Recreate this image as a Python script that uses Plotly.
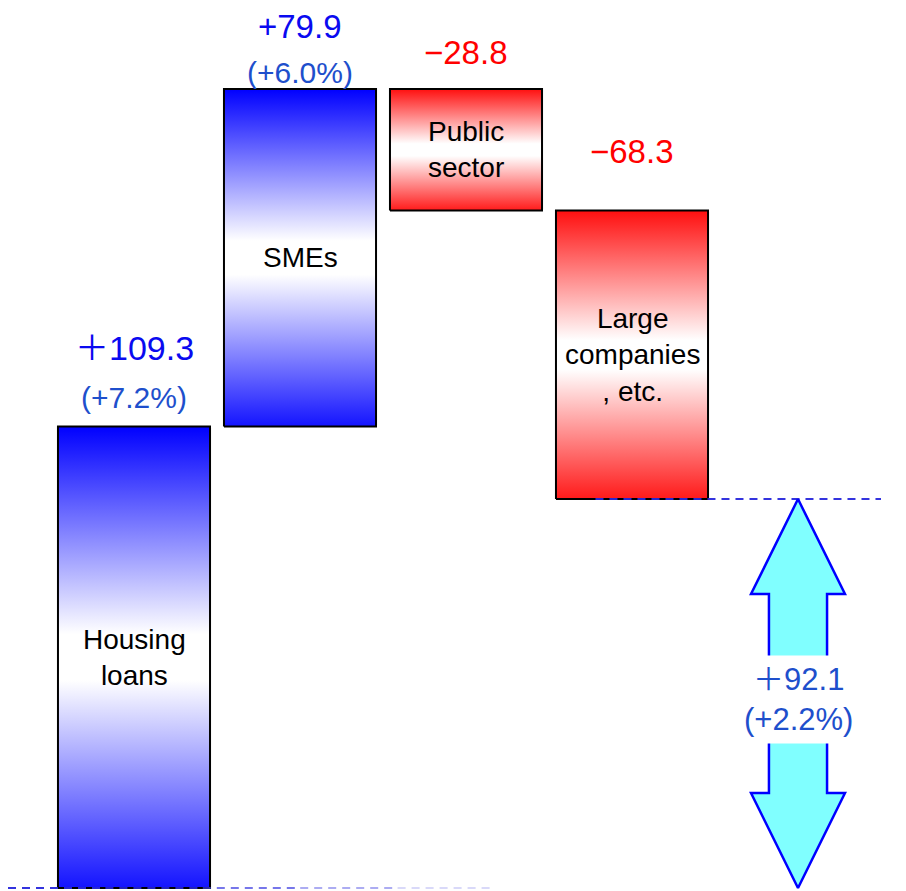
import plotly.graph_objects as go

# ---------------- data ----------------
categories = ["Housing<br>loans", "SMEs", "Public<br>sector", "Large<br>companies<br>, etc."]
changes = [109.3, 79.9, -28.8, -68.3]
value_labels = ["＋109.3", "+79.9", "−28.8", "−68.3"]
pct_labels = ["(+7.2%)", "(+6.0%)", "", ""]
total_change = 92.1
total_label = "＋92.1"
total_pct = "(+2.2%)"

# ---------------- style / layout constants ----------------
W, H = 906, 891
PAGE_OFF = 8                        # default body margin of the page
X0_PX, STEP_PX = 134 - PAGE_OFF, 166
BOTTOM_PX, TOP_PX = 888 - PAGE_OFF, 89 - PAGE_OFF
BAR_W = 0.916
BLUE_SCALE = [[0, "#1414FF"], [0.45, "#FFFFFF"], [0.55, "#FFFFFF"], [1, "#0000FF"]]
RED_SCALE = [[0, "#FF1A1A"], [0.45, "#FFFFFF"], [0.55, "#FFFFFF"], [1, "#FF0F0F"]]
FONT = "Liberation Sans, Arial, Noto Sans CJK JP, sans-serif"
VAL_COLORS = ["#0A0AF0", "#0A0AF0", "#FF0000", "#FF0000"]
PCT_COLOR = "#1E4FCC"
LABEL_OFFSETS = [(78, 29), (63, 17), (37, None), (59, None)]  # px above bar top

# cumulative positions
bases, tops = [], []
run = 0.0
for v in changes:
    bases.append(run)
    run += v
    tops.append(run)
ymax = max(max(bases), max(tops))
scale = (BOTTOM_PX - TOP_PX) / ymax
yrange = [-(H - BOTTOM_PX) / scale, ymax + TOP_PX / scale]
xrange = [-X0_PX / STEP_PX, (W - X0_PX) / STEP_PX]

fig = go.Figure()
annotations = []

for i, (cat, v) in enumerate(zip(categories, changes)):
    lo, hi = min(bases[i], tops[i]), max(bases[i], tops[i])
    xl, xr = i - BAR_W / 2, i + BAR_W / 2
    fig.add_trace(go.Scatter(
        x=[xl, xr, xr, xl, xl], y=[lo, lo, hi, hi, lo],
        mode="lines", fill="toself",
        fillgradient=dict(type="vertical", colorscale=BLUE_SCALE if v > 0 else RED_SCALE),
        line=dict(color="black", width=2), hoverinfo="skip", showlegend=False))
    annotations.append(dict(x=i, y=(lo + hi) / 2, text=cat, showarrow=False,
                            font=dict(family=FONT, size=28, color="black")))
    off_v, off_p = LABEL_OFFSETS[i]
    annotations.append(dict(x=i, y=hi, text=value_labels[i], showarrow=False,
                            yanchor="middle", yshift=off_v,
                            font=dict(family=FONT, size=34 if i == 0 else 33, color=VAL_COLORS[i])))
    if pct_labels[i]:
        annotations.append(dict(x=i, y=hi, text=pct_labels[i], showarrow=False,
                                yanchor="middle", yshift=off_p,
                                font=dict(family=FONT, size=30, color=PCT_COLOR)))

# dashed guide lines
n = len(changes)
fade = ["rgba(40,40,220,0.95)", "rgba(40,40,220,0.85)", "rgba(60,60,225,0.7)",
        "rgba(90,90,230,0.5)", "rgba(130,130,235,0.3)"]
x_start, x_end = xrange[0], (495 - PAGE_OFF - X0_PX) / STEP_PX
for k in range(len(fade)):
    a = x_start + (x_end - x_start) * k / len(fade)
    b = x_start + (x_end - x_start) * (k + 1) / len(fade)
    fig.add_trace(go.Scatter(x=[a, b], y=[0, 0], mode="lines",
                             line=dict(color=fade[k], width=2, dash="8px,6px"),
                             hoverinfo="skip", showlegend=False))
fig.add_trace(go.Scatter(x=[2.78, 4.5], y=[total_change, total_change], mode="lines",
                         line=dict(color="rgba(40,40,220,0.95)", width=2, dash="8px,6px"),
                         hoverinfo="skip", showlegend=False))

# double-headed arrow for the total
c = n
hw, sw = 0.283, 0.175
hl = 95 / scale
y0, y1 = 0, total_change
ax = [c, c + hw, c + sw, c + sw, c + hw, c, c - hw, c - sw, c - sw, c - hw, c]
ay = [y1, y1 - hl, y1 - hl, y0 + hl, y0 + hl, y0, y0 + hl, y0 + hl, y1 - hl, y1 - hl, y1]
fig.add_trace(go.Scatter(x=ax, y=ay, mode="lines", fill="toself", fillcolor="#80FFFF",
                         line=dict(color="#0000FF", width=2.5), hoverinfo="skip",
                         showlegend=False))
annotations.append(dict(x=c, y=total_change / 2, text=total_label + "<br>" + total_pct,
                        showarrow=False, bgcolor="white", borderpad=6, yshift=-6,
                        font=dict(family=FONT, size=31, color=PCT_COLOR)))

fig.update_layout(
    width=W, height=H, margin=dict(l=0, r=0, t=0, b=0),
    paper_bgcolor="white", plot_bgcolor="white",
    xaxis=dict(range=xrange, visible=False, fixedrange=True),
    yaxis=dict(range=yrange, visible=False, fixedrange=True),
    annotations=annotations, showlegend=False,
)
fig.write_html("out.html")
